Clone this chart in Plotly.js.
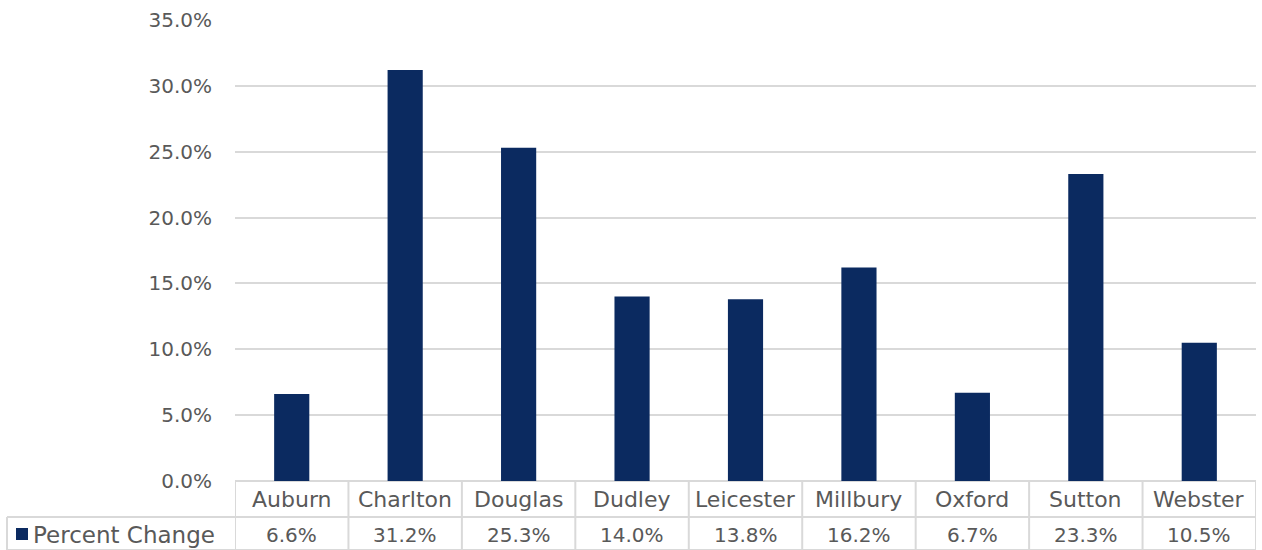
<!DOCTYPE html>
<html>
<head>
<meta charset="utf-8">
<script src="https://cdn.plot.ly/plotly-3.0.1.min.js"></script>
<style>html,body{margin:0;padding:0;background:#fff;}#chart{width:1262px;height:550px;}</style>
</head>
<body>
<div id="chart"></div>
<script>
const categories = ["Auburn","Charlton","Douglas","Dudley","Leicester","Millbury","Oxford","Sutton","Webster"];
const percentChange = [0.066,0.312,0.253,0.140,0.138,0.162,0.067,0.233,0.105];
const seriesName = "Percent Change";
const yTickVals = [0,0.05,0.10,0.15,0.20,0.25,0.30,0.35];

const FONT = "Century Gothic, DejaVu Sans, sans-serif";
const TXT = "#595959";
const GRID = "#d9d9d9";
const BAR = "#0b2a60";

const W = 1262, H = 550;
const mL = 235, mR = 6, mT = 20, mB = 69;
const plotW = W - mL - mR, plotH = H - mT - mB;
const px2x = p => (p - mL) / plotW;      // page px -> paper x
const py2y = p => (H - mB - p) / plotH;  // page px -> paper y

const row1Bottom = py2y(517);
const row2Bottom = py2y(550);
const n = categories.length;

const shapes = [];
for (let i = 0; i <= n; i++) {
  shapes.push({type:"line", xref:"x", yref:"paper", x0:i-0.5, x1:i-0.5, y0:0, y1:row2Bottom,
    line:{color:GRID, width:2}});
}
shapes.push({type:"line", xref:"paper", yref:"paper", x0:px2x(7), x1:1, y0:row1Bottom, y1:row1Bottom, line:{color:GRID,width:2}});
shapes.push({type:"line", xref:"paper", yref:"paper", x0:px2x(7), x1:px2x(7), y0:row1Bottom, y1:row2Bottom, line:{color:GRID,width:2}});
shapes.push({type:"line", xref:"paper", yref:"paper", x0:px2x(7), x1:1, y0:row2Bottom, y1:row2Bottom, line:{color:GRID,width:2}});
shapes.push({type:"rect", xref:"paper", yref:"paper", x0:px2x(16), x1:px2x(28), y0:py2y(528), y1:py2y(540), fillcolor:BAR, line:{width:0}});

const annotations = [];
categories.forEach((c, i) => {
  annotations.push({xref:"x", yref:"paper", x:c, y:py2y(499), text:c, showarrow:false,
    xanchor:"center", yanchor:"middle", font:{family:FONT, size:22, color:TXT}});
  annotations.push({xref:"x", yref:"paper", x:c, y:py2y(535), text:(percentChange[i]*100).toFixed(1)+"%", showarrow:false,
    xanchor:"center", yanchor:"middle", font:{family:FONT, size:20, color:TXT}});
});
annotations.push({xref:"paper", yref:"paper", x:px2x(31), y:py2y(535), text:seriesName, showarrow:false,
  xanchor:"left", yanchor:"middle", font:{family:FONT, size:23, color:TXT}});

const data = [{
  type:"bar", x:categories, y:percentChange, name:seriesName,
  marker:{color:BAR, line:{width:0}}, hoverinfo:"skip"
}];

const layout = {
  width:W, height:H,
  margin:{l:mL, r:mR, t:mT, b:mB, pad:0},
  paper_bgcolor:"#fff", plot_bgcolor:"#fff",
  showlegend:false,
  bargap:0.69,
  font:{family:FONT, color:TXT, size:20},
  xaxis:{type:"category", showticklabels:false, showgrid:false, zeroline:false, showline:false, ticks:"", range:[-0.5, n-0.5], fixedrange:true},
  yaxis:{range:[0,0.35], tickvals:yTickVals, tickformat:".1%", showgrid:true, gridcolor:GRID, gridwidth:2,
    zeroline:true, zerolinecolor:GRID, zerolinewidth:2, showline:false, ticks:"",
    ticklabelstandoff:22, tickfont:{family:FONT, size:20, color:TXT}, fixedrange:true},
  shapes:shapes,
  annotations:annotations
};

Plotly.newPlot("chart", data, layout, {staticPlot:true, displayModeBar:false});
</script>
</body>
</html>
